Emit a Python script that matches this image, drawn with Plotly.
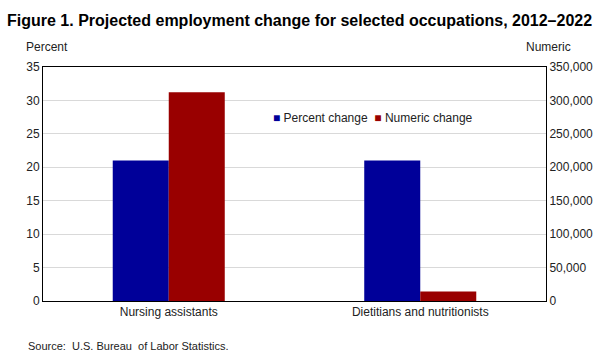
import plotly.graph_objects as go

categories = ["Nursing assistants", "Dietitians and nutritionists"]
percent_change = [21, 21]
numeric_change = [312200, 14200]
left_ticks = [0, 5, 10, 15, 20, 25, 30, 35]
right_ticks = [0, 50000, 100000, 150000, 200000, 250000, 300000, 350000]
series_names = ["Percent change", "Numeric change"]
series_colors = ["#000099", "#990000"]

FONT = "Liberation Sans, Arial, sans-serif"
bw = 0.2227

W, H = 605, 363
L, R, T, B = 43, 59, 67, 62
pw, ph = W - L - R, H - T - B

def px(x):
    return (x - L) / pw

def py(y):
    return (H - y - B) / ph

fig = go.Figure()
fig.add_trace(go.Bar(x=categories, y=percent_change, name=series_names[0],
                     marker=dict(color=series_colors[0], line=dict(width=0)),
                     width=bw, offset=-bw, yaxis="y"))
fig.add_trace(go.Bar(x=categories, y=numeric_change, name=series_names[1],
                     marker=dict(color=series_colors[1], line=dict(width=0)),
                     width=bw, offset=0, yaxis="y2"))

ann = [
    dict(text="<b>Figure 1. Projected employment change for selected occupations, 2012–2022</b>",
         x=px(5), y=py(20), xanchor="left", font=dict(size=16, color="black")),
    dict(text="Percent", x=px(24), y=py(47), xanchor="left"),
    dict(text="Numeric", x=px(573), y=py(47), xanchor="right"),
    dict(text="Source:  U.S. Bureau  of Labor Statistics.", x=px(26), y=py(346),
         xanchor="left", font=dict(size=11)),
    dict(text=f"<span style='color:{series_colors[0]}'>■</span> {series_names[0]}  "
              f"<span style='color:{series_colors[1]}'>■</span> {series_names[1]}",
         x=px(271), y=py(118), xanchor="left"),
]
for a in ann:
    a.update(xref="paper", yref="paper", showarrow=False, yanchor="middle")

fig.update_layout(
    width=W, height=H,
    margin=dict(l=L, r=R, t=T, b=B, autoexpand=False),
    paper_bgcolor="white", plot_bgcolor="white",
    font=dict(family=FONT, size=12, color="#222"),
    showlegend=False,
    xaxis=dict(showgrid=False, ticks="", showline=True, linecolor="black", linewidth=1,
               mirror=True, tickfont=dict(size=12)),
    yaxis=dict(range=[0, 35], tickvals=left_ticks, showgrid=True, gridcolor="#d9d9d9",
               gridwidth=1, zeroline=False, showline=True, linecolor="black", linewidth=1,
               ticks="", tickfont=dict(size=12)),
    yaxis2=dict(range=[0, 350000], tickvals=right_ticks, overlaying="y", side="right",
                showgrid=False, zeroline=False, showline=True, linecolor="black",
                linewidth=1, ticks="", tickformat=",", tickfont=dict(size=12)),
    annotations=ann,
)

fig.write_html("out.html", config={"displayModeBar": False},
               post_script="document.body.style.margin='0';document.body.style.padding='0';")
